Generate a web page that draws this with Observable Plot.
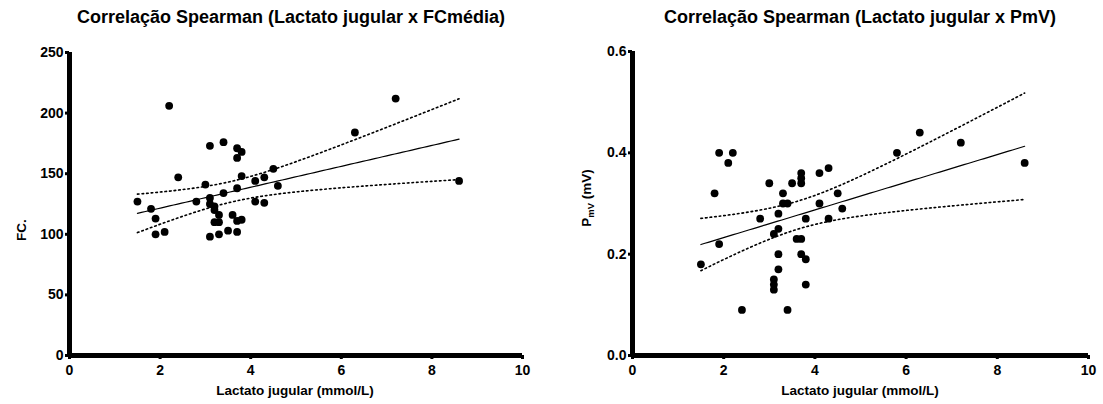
<!DOCTYPE html>
<html>
<head>
<meta charset="utf-8">
<script src="https://cdn.jsdelivr.net/npm/d3@7"></script>
<script src="https://cdn.jsdelivr.net/npm/@observablehq/plot@0.6"></script>
<style>
  body { margin: 0; background: #fff; font-family: "Liberation Sans", Arial, sans-serif; }
  #page { position: relative; width: 1103px; height: 404px; overflow: hidden; background: #fff; }
  .title { position: absolute; top: 6px; font-weight: bold; font-size: 18px; line-height: 22px; text-align: center; color: #000; white-space: nowrap; }
  .panel { position: absolute; top: 36px; }
</style>
</head>
<body>
<div id="page">
  <div class="title" style="left:0;width:582px">Correlação Spearman (Lactato jugular x FCmédia)</div>
  <div class="title" style="left:620px;width:480px">Correlação Spearman (Lactato jugular x PmV)</div>
  <div class="panel" id="left" style="left:0"></div>
  <div class="panel" id="right" style="left:551px"></div>
</div>
<script>
// Jugular lactate (mmol/L) against mean heart rate
const lactatoFC = [1.5, 1.8, 1.9, 1.9, 2.1, 2.2, 2.4, 2.8, 3.0, 3.1, 3.1, 3.1, 3.2, 3.2, 3.3, 3.2, 3.3, 3.1, 3.3, 3.4,
                   3.4, 3.5, 3.6, 3.7, 3.8, 3.7, 3.8, 3.7, 3.7, 3.8, 3.7, 4.1, 4.3, 4.5, 4.6, 4.1, 4.3, 6.3, 7.2, 8.6];
const fcMedia = [127, 121, 113, 100, 102, 206, 147, 127, 141, 173, 130, 125, 123, 120, 116, 110, 110, 98, 100, 176,
                 134, 103, 116, 171, 168, 163, 148, 138, 111, 112, 102, 144, 147, 154, 140, 127, 126, 184, 212, 144];

// Jugular lactate (mmol/L) against P-wave amplitude (mV)
const lactatoPmV = [1.5, 1.8, 1.9, 1.9, 2.1, 2.2, 2.4, 2.8, 3.0, 3.1, 3.1, 3.1, 3.1, 3.2, 3.2, 3.2, 3.2, 3.3, 3.3, 3.4, 3.4,
                    3.5, 3.6, 3.7, 3.7, 3.7, 3.7, 3.7, 3.8, 3.8, 3.8, 4.1, 4.1, 4.3, 4.3, 4.5, 4.6, 5.8, 6.3, 7.2, 8.6];
const pmV = [0.18, 0.32, 0.40, 0.22, 0.38, 0.40, 0.09, 0.27, 0.34, 0.24, 0.15, 0.14, 0.13, 0.28, 0.25, 0.20, 0.17, 0.32, 0.30, 0.30, 0.09,
             0.34, 0.23, 0.36, 0.35, 0.34, 0.23, 0.20, 0.27, 0.19, 0.14, 0.36, 0.30, 0.37, 0.27, 0.32, 0.29, 0.40, 0.44, 0.42, 0.38];

// Axis ticks
const xTicks = [0, 2, 4, 6, 8, 10];
const fcTicks = [0, 50, 100, 150, 200, 250];
const pmvTicks = [0, 0.2, 0.4, 0.6];

const FONT = "'Liberation Sans', Arial, sans-serif";

// Two-sided 95% t quantile (Cornish-Fisher expansion)
function t975(df) {
  const z = 1.959964;
  const z3 = z ** 3, z5 = z ** 5, z7 = z ** 7;
  return z + (z3 + z) / (4 * df) + (5 * z5 + 16 * z3 + 3 * z) / (96 * df * df)
    + (3 * z7 + 19 * z5 + 17 * z3 - 15 * z) / (384 * df ** 3);
}

// Least-squares line with 95% confidence band of the mean
function regressionBand(xs, ys, steps = 80) {
  const n = xs.length;
  const mx = d3.mean(xs), my = d3.mean(ys);
  let sxx = 0, sxy = 0;
  for (let i = 0; i < n; i++) { sxx += (xs[i] - mx) ** 2; sxy += (xs[i] - mx) * (ys[i] - my); }
  const b = sxy / sxx, a = my - b * mx;
  let sse = 0;
  for (let i = 0; i < n; i++) sse += (ys[i] - a - b * xs[i]) ** 2;
  const s = Math.sqrt(sse / (n - 2));
  const t = t975(n - 2);
  const [x0, x1] = d3.extent(xs);
  return d3.range(steps + 1).map(k => {
    const x = x0 + (x1 - x0) * k / steps;
    const fit = a + b * x;
    const h = t * s * Math.sqrt(1 / n + (x - mx) ** 2 / sxx);
    return {x, fit, lo: fit - h, hi: fit + h};
  });
}

function panel({xs, ys, yDomain, yTicks, yFormat, width, marginLeft, marginRight, marginTop}) {
  const points = xs.map((x, i) => ({x, y: ys[i]}));
  const band = regressionBand(xs, ys);
  const [y0, y1] = yDomain;
  return Plot.plot({
    width, height: 368,
    marginLeft, marginRight, marginTop, marginBottom: 49,
    style: {fontFamily: FONT, fontSize: "14px", fontWeight: "bold", color: "#000", background: "#fff", overflow: "visible"},
    x: {domain: [0, 10]},
    y: {domain: yDomain},
    marks: [
      Plot.axisX({ticks: xTicks, tickSize: 4, tickPadding: 6, stroke: "#000", strokeWidth: 3, fontWeight: "bold", fontSize: 14, label: null}),
      Plot.axisY({ticks: yTicks, tickSize: 4, tickPadding: 2, stroke: "#000", strokeWidth: 3, fontWeight: "bold", fontSize: 14, tickFormat: yFormat, label: null}),
      Plot.ruleX([0], {y1: y0, y2: y1, stroke: "#000", strokeWidth: 5}),
      Plot.ruleY([0], {x1: 0, x2: 10, stroke: "#000", strokeWidth: 5}),
      Plot.line(band, {x: "x", y: "hi", stroke: "#000", strokeWidth: 1.6, strokeDasharray: "1.6,3"}),
      Plot.line(band, {x: "x", y: "lo", stroke: "#000", strokeWidth: 1.6, strokeDasharray: "1.6,3"}),
      Plot.line(band, {x: "x", y: "fit", stroke: "#000", strokeWidth: 1.2}),
      Plot.dot(points, {x: "x", y: "y", r: 3.9, fill: "#000", stroke: "none"})
    ]
  });
}

// Heart rate panel
const left = panel({
  xs: lactatoFC, ys: fcMedia, yDomain: [0, 250], yTicks: fcTicks, yFormat: d => String(d),
  width: 551, marginLeft: 69, marginRight: 29, marginTop: 16
});
document.getElementById("left").appendChild(left);
const ls = d3.select(left);
ls.append("text")
  .attr("transform", "translate(21,194) rotate(-90)")
  .attr("text-anchor", "middle").attr("dy", "0.35em")
  .style("font-size", "13.5px").style("font-weight", "bold").attr("fill", "#000")
  .text("FC.");
ls.append("text")
  .attr("x", 295).attr("y", 354).attr("dy", "0.35em")
  .attr("text-anchor", "middle")
  .style("font-size", "13.5px").style("font-weight", "bold").attr("fill", "#000")
  .text("Lactato jugular (mmol/L)");

// P-wave panel
const right = panel({
  xs: lactatoPmV, ys: pmV, yDomain: [0, 0.6], yTicks: pmvTicks, yFormat: d3.format(".1f"),
  width: 552, marginLeft: 81, marginRight: 15, marginTop: 15
});
document.getElementById("right").appendChild(right);
const rs = d3.select(right);
const yl = rs.append("text")
  .attr("transform", "translate(35,162) rotate(-90)")
  .attr("text-anchor", "middle").attr("dy", "0.35em")
  .style("font-size", "13.5px").style("font-weight", "bold").attr("fill", "#000");
yl.append("tspan").text("P");
yl.append("tspan").attr("dy", 3).style("font-size", "9.5px").text("mV");
yl.append("tspan").attr("dy", -3).text(" (mV)");
rs.append("text")
  .attr("x", 309).attr("y", 354).attr("dy", "0.35em")
  .attr("text-anchor", "middle")
  .style("font-size", "13.5px").style("font-weight", "bold").attr("fill", "#000")
  .text("Lactato jugular (mmol/L)");
</script>
</body>
</html>
